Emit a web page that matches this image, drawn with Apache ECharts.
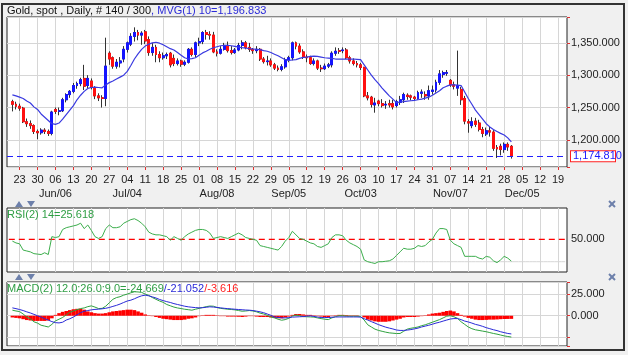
<!DOCTYPE html>
<html><head><meta charset="utf-8">
<script src="https://cdn.jsdelivr.net/npm/echarts@6/dist/echarts.min.js"></script>
<style>html,body{margin:0;padding:0;background:#f0f0f0;}#c{width:628px;height:355px;}</style>
</head><body><div id="c"></div>
<script>
// ---- data (Gold spot, daily, 2016-05-19 .. 2016-11-30) ----
const axisStart = '2016-05-18', axisEnd = '2016-12-21', firstBar = '2016-05-19';
const open  = [1259,1255,1252,1249,1228,1225,1222,1213,1211,1215, 1213,1210,1247,1244,1245,1262,1270,1275,1284,1287, 1295,1284,1291,1281,1268,1265,1264,1334,1327,1314, 1319,1325,1340,1348,1360,1366,1362,1367,1355,1335, 1343,1332,1327,1330,1334,1326,1318,1322,1317,1320, 1340,1332,1350,1352,1366,1363,1362,1336,1334,1340, 1346,1338,1335,1339,1346,1350,1343,1340,1338,1340, 1325,1321,1322,1316,1311,1309,1313,1324,1327,1350, 1345,1336,1328,1327,1318,1322,1311,1310,1314,1316, 1334,1338,1338,1339,1327,1322,1318,1316,1312,1268, 1266,1254,1260,1256,1254,1256,1256,1253,1258,1262, 1269,1268,1266,1264,1272,1270,1268,1275,1277,1289, 1301,1303,1292,1285,1280,1278,1264,1228,1222,1229, 1226,1216,1209,1214,1212,1188,1190,1185,1193,1190];
const close = [1255,1252,1249,1228,1225,1222,1213,1211,1215,1213, 1210,1243,1244,1245,1262,1270,1275,1284,1287,1293, 1283,1295,1281,1268,1265,1264,1314,1325,1314,1320, 1322,1340,1350,1360,1366,1362,1365,1353,1335,1343, 1332,1327,1330,1332,1316,1318,1322,1317,1320,1340, 1332,1350,1352,1366,1363,1362,1336,1334,1340,1346, 1338,1335,1339,1346,1350,1343,1340,1338,1340,1325, 1321,1322,1316,1311,1309,1313,1324,1327,1350,1345, 1336,1328,1327,1318,1322,1311,1310,1314,1316,1334, 1337,1337,1339,1327,1322,1318,1316,1312,1268,1265, 1255,1257,1256,1253,1255,1254,1251,1259,1262,1270, 1267,1266,1264,1273,1274,1268,1276,1277,1289,1302, 1304,1304,1285,1283,1284,1262,1229,1226,1228,1224, 1216,1210,1214,1212,1187,1186,1185,1193,1189,1174.81];
const low   = [1244,1247,1245,1226,1220,1217,1209,1201,1208,1209, 1206,1207,1240,1238,1243,1258,1265,1272,1279,1283, 1277,1280,1278,1263,1260,1250,1252,1316,1310,1310, 1312,1320,1335,1345,1352,1354,1347,1348,1330,1330, 1320,1320,1324,1325,1312,1314,1315,1313,1314,1318, 1329,1328,1345,1348,1355,1355,1334,1329,1332,1338, 1335,1332,1333,1337,1340,1340,1336,1333,1334,1322, 1318,1315,1313,1308,1306,1306,1310,1320,1323,1340, 1333,1325,1320,1316,1315,1308,1305,1308,1311,1312, 1330,1333,1334,1325,1318,1315,1312,1308,1266,1261, 1250,1242,1252,1250,1248,1250,1247,1250,1254,1257, 1262,1261,1260,1262,1265,1262,1262,1270,1273,1285, 1296,1299,1282,1278,1268,1254,1224,1211,1218,1220, 1213,1204,1206,1205,1183,1172,1176,1180,1183,1171];
const high  = [1262,1259,1256,1251,1233,1230,1224,1216,1218,1218, 1216,1245,1250,1250,1265,1272,1277,1288,1290,1296, 1316,1300,1295,1283,1272,1269,1358,1337,1329,1325, 1328,1345,1352,1365,1374,1370,1368,1370,1360,1350, 1347,1337,1335,1335,1336,1332,1326,1324,1323,1342, 1343,1352,1358,1368,1370,1368,1367,1340,1345,1350, 1352,1345,1342,1350,1354,1353,1350,1342,1345,1342, 1328,1330,1326,1319,1315,1317,1327,1330,1352,1352, 1349,1340,1332,1330,1326,1324,1316,1318,1319,1337, 1343,1342,1343,1342,1330,1326,1322,1319,1313,1274, 1268,1265,1262,1263,1260,1262,1262,1262,1268,1273, 1272,1270,1268,1276,1278,1275,1284,1284,1293,1308, 1307,1308,1294,1290,1338,1282,1268,1232,1235,1234, 1231,1220,1219,1220,1215,1192,1194,1196,1196,1192];
const ma10  = [1269.5,1268,1266,1264,1260,1257,1251,1247,1240,1235, 1230,1225,1224,1226,1232,1239,1246,1253,1262,1269, 1275,1279.5,1281,1281.5,1281,1280.5,1285,1288.5,1291,1294, 1297,1300,1306,1315,1325,1333,1340,1345,1348,1350, 1351,1349.5,1347,1344,1341,1339,1335,1331,1327,1325, 1325.5,1327,1331,1334.5,1337,1340,1342.5,1344,1345.5,1346, 1346,1345.5,1344.5,1343.5,1342.5,1342,1341,1340.5,1340,1339.5, 1338,1337,1335,1332.5,1330,1327,1324,1323,1323.5,1324, 1326,1327.5,1328,1329,1329.5,1329,1328,1327,1326.5,1326, 1325,1325,1325,1325,1325,1325,1324.5,1324,1316,1308, 1300,1293,1287,1280,1274,1268,1263,1257.5,1258.5,1259, 1260,1260.5,1261,1262,1263,1264.5,1266,1269,1272.5,1276, 1280.5,1283,1285,1285,1284.5,1284,1274,1264,1255,1246, 1239,1232,1225,1220,1216,1213,1210,1207.5,1203,1196.833];
const rsi14 = [48,46,45,38,37,36,34,33.5,33,35, 33,53,52,53,61,63,64,65,66,68, 62,66,60,53,51,53,62,66,63,63, 64,68,70,72,73,71,68,64,58,56, 55,55,54,53,49,53,51,49,53,56, 58,60,61,61,60,57,51,52,53,52, 51,53,55,57,55,52,51,50,49,43, 42,41,40,39,38,42,48,52,59,55, 51,50,48,46,45,42,41,43,45,52, 55,55,54,49,46,44,42,39,27,25, 24,23,25,25,25.5,26,28,32,36,40, 39,39,40,43,42,43,47,50,57,62, 62,61,49,45,43,41,31,31,31,31, 29,28,31,30,26,24,27,31,29,25.618];
const macdLine = [6.4,5.5,4.8,2,-1.5,-3.5,-7,-8.5,-11,-12, -13,-10,-6,-4,-2,1,4,5.5,7,8.3, 9,10.5,11.4,10,8.3,8.5,11,15,19,21, 22,23.8,25,26.5,27.7,27.5,27,25,23.5,21, 19,17,15.5,13,11.5,10,9,8.3,7.5,7, 6.4,7.5,8.5,9.5,10.5,11.2,11,9.5,8.5,8, 7.5,7.2,6.8,6,5.2,5.5,6,5.5,4.5,3, 2,0.5,-1.4,-2.5,-4,-5.2,-4.5,-3,-0.5,0.8, 0,-1,-1.2,-1.4,-1.6,-2.5,-3.3,-4,-4.5,-2.5, -1,0,0,-0.5,-0.6,-0.6,-0.6,-0.8,-5,-10.5, -13,-15.5,-17,-18,-19,-19.8,-20.2,-20.6,-20.5,-18, -15.5,-14.5,-13.8,-13,-11.5,-10.5,-9,-7.5,-6,-4.5, -2.5,-0.5,0,-1.2,-3,-7,-10,-13,-15,-16.3, -17,-17.8,-18.5,-19.5,-20.5,-21.3,-22.3,-23.3,-24,-24.669];
const signalLine = [9.1,8.2,7.2,6,4.5,3.2,1.6,0,-1.5,-3.5, -5,-6.8,-8,-8.3,-7.5,-5,-3.5,-1.5,1,3.5, 5.2,6,6.8,7.3,7.6,8,8.6,9.5,10.8,12, 13.5,15.3,17,18,19.6,21.5,23,23.8,23,21.8, 20.5,18.8,17.5,16.3,15.3,14,13,12,11,10.3, 9.8,9.4,9.1,9.3,9.8,10.3,10,9.6,9.1,8.6, 8.2,7.9,7.5,7.2,6.9,6.6,6.4,6,5.3,4.5, 3.5,2,0.5,-1.4,-2,-2.4,-2.5,-2.2,-1.6,-1.4, -1.2,-1,-0.5,-0.2,-0.8,-1.5,-2.1,-2.1,-2.1,-1.8, -1.5,-1.4,-1.4,-1.4,-1.4,-1.4,-1.4,-1.6,-3.5,-5, -6.8,-8.5,-10.3,-11.8,-13.2,-14.3,-15.3,-16.5,-17,-17, -16.6,-16,-15.2,-14.3,-13,-12,-11,-9.8,-8.5,-7.5, -6.2,-5,-3.8,-3.3,-3.3,-4.5,-6.2,-7.2,-8.5,-10, -11,-12.3,-13.8,-15,-16.2,-17.2,-18.5,-19.5,-20.5,-21.052];
const histogram = [-2,-2.5,-3,-4,-5,-5.5,-6,-6,-6,-6, -5.5,-3,1,3,4.5,5.5,6.5,7.5,8,8, 7,5,4,3,2.5,2.5,3,4,5,5.5, 6,6.5,7,7,6.5,5,3.5,1.5,0.5,-0.5, -1.5,-2.5,-3.5,-4,-4.5,-5,-5,-5,-4.5,-3.5, -3,-2,-0.5,0.5,1,1,1,0.5,-0.5,-0.5, -1,-1,-1,-1.2,-1.5,-1,-0.5,-0.5,-1,-1.5, -1.5,-1.5,-2,-2.5,-3,-3,-2,-1,1,2, 2,1.5,1,1,0.5,-0.5,-1,-1.5,-2,-0.5, 0.5,1,1,0.8,0.5,0.5,0.5,0,-2,-4.5, -5.5,-6.5,-7,-7,-7,-6.5,-5.5,-4.5,-3.5,-2, -1.5,-1.5,-1.5,-1,-0.5,0.5,1.5,2.5,3,3.5, 4.5,5.5,6,5,3,1,-1,-2.5,-3.5,-4.5, -5,-5,-4.8,-4.5,-4.5,-4.3,-4,-3.8,-3.7,-3.616];
const priceTicks = [1200,1250,1300,1350];
const rsiTicks = [50];
const rsiGuides = [25];
const macdTicks = [25,0];
const monthLabels = {'2016-06-06':'Jun/06','2016-07-04':'Jul/04','2016-08-08':'Aug/08','2016-09-05':'Sep/05','2016-10-03':'Oct/03','2016-11-07':'Nov/07','2016-12-05':'Dec/05'};

// ---- build categories (weekdays) ----
const days = [];
for (let t = Date.parse(axisStart+'T00:00:00Z'); t <= Date.parse(axisEnd+'T00:00:00Z'); t += 86400000) {
  const d = new Date(t), w = d.getUTCDay();
  if (w > 0 && w < 6) days.push(d.toISOString().slice(0,10));
}
const first = days.indexOf(firstBar);
const isMon = v => new Date(v+'T00:00:00Z').getUTCDay() === 1;
const monIv = (i, v) => isMon(v);
const fmt = (v, n) => Number(v).toLocaleString('en-US',{minimumFractionDigits:n, maximumFractionDigits:n});
const font = '"Liberation Sans Narrow", "Arial Narrow", "Liberation Sans", Arial, sans-serif';
const FS = 11;
const GRID = '#d6d6d6';

const candleFull = open.map((o,i)=>[first+i, o, close[i], low[i], high[i]]);
const candleBody = open.map((o,i)=>[first+i, o, close[i], Math.min(o,close[i]), Math.max(o,close[i])]);
const pair = arr => arr.map((v,i)=>[first+i, v]);
const level = v => days.map((d,i)=>[i, v]);
const lastClose = close[close.length-1], lastRsi = rsi14[rsi14.length-1], lastMacd = macdLine[macdLine.length-1];

const boxLabel = (txt) => ({show:true, position:'end', distance:4, formatter:txt, color:'#1a1aff', backgroundColor:'#fff', borderColor:'#ff2020', borderWidth:1, padding:[1,1,0,2], width:41, fontSize:FS, lineHeight:9, fontFamily:font, align:'left'});

const mkX = (gi, main) => ({
  type:'category', gridIndex:gi, data:days, boundaryGap:true,
  axisLine:{show:false},
  axisTick:{show:main, alignWithLabel:true, interval:monIv, length:3, lineStyle:{color:'#e03030'}},
  axisLabel:{show:main, interval:monIv, margin:6, color:'#222', fontSize:FS, lineHeight:14, fontFamily:font,
    formatter: v => monthLabels[v] ? v.slice(8,10)+'\n'+monthLabels[v] : v.slice(8,10)},
  splitLine:{show:true, interval:monIv, alignWithLabel:true, lineStyle:{color:GRID, width:1}}
});
const gridBase = {left:7, width:560, show:true, backgroundColor:'#fff', borderColor:'#222', borderWidth:1};
const rich3 = (c) => ({color:c, fontSize:FS, fontFamily:font, fontWeight:'normal'});

const option = {
  animation:false,
  backgroundColor:'#f0f0f0',
  textStyle:{fontFamily:font},
  title:[
    {text:'{a|Gold, spot , Daily, # 140 / 300}{b|, MVG(1) 10='+fmt(ma10[ma10.length-1],3)+'}', left:7, top:5, padding:0,
     textStyle:{rich:{a:rich3('#111'), b:rich3('#2a2ad8')}}},
    {text:'{a|RSI(2) 14='+fmt(lastRsi,3)+'}', left:7, top:209, padding:0, textStyle:{rich:{a:rich3('#2f9e44')}}},
    {text:'{a|MACD(2) 12.0;26.0;9.0='+fmt(lastMacd,3)+'}{b|/'+fmt(signalLine[signalLine.length-1],3)+'}{c|/'+fmt(histogram[histogram.length-1],3)+'}', left:7, top:283, padding:0,
     textStyle:{rich:{a:rich3('#2f9e44'), b:rich3('#2a2ad8'), c:rich3('#ff2020')}}}
  ],
  grid:[
    Object.assign({top:17, height:150}, gridBase),
    Object.assign({top:208, height:64}, gridBase),
    Object.assign({top:282, height:64}, gridBase)
  ],
  xAxis:[mkX(0,true), mkX(1,false), mkX(2,false)],
  yAxis:[
    {type:'value', gridIndex:0, position:'right', min:1158, max:1390, splitNumber:5, minInterval:50, maxInterval:50,
     axisLine:{show:false}, axisTick:{show:true, length:3, lineStyle:{color:'#e03030'}},
     axisLabel:{margin:4, color:'#222', fontSize:FS, fontFamily:font, formatter:v=>priceTicks.includes(v)?fmt(v,3):''},
     splitLine:{lineStyle:{color:GRID}}},
    {type:'value', gridIndex:1, position:'right', min:13.5, max:85, minInterval:25, maxInterval:25,
     axisLine:{show:false}, axisTick:{show:false},
     axisLabel:{margin:4, color:'#222', fontSize:FS, fontFamily:font, formatter:v=>rsiTicks.includes(v)?fmt(v,3):''},
     splitLine:{show:false}},
    {type:'value', gridIndex:2, position:'right', min:-35, max:39, minInterval:25, maxInterval:25,
     axisLine:{show:false}, axisTick:{show:true, length:3, lineStyle:{color:'#e03030'}},
     axisLabel:{margin:4, color:'#222', fontSize:FS, fontFamily:font, formatter:v=>macdTicks.includes(v)?fmt(v,3):''},
     splitLine:{lineStyle:{color:GRID}}}
  ],
  series:[
    {type:'candlestick', name:'wick', xAxisIndex:0, yAxisIndex:0, data:candleFull, encode:{x:0,y:[1,2,3,4]}, barWidth:2.4,
     itemStyle:{color:'#333',color0:'#333',borderColor:'#333',borderColor0:'#333',borderWidth:1}},
    {type:'candlestick', name:'body', xAxisIndex:0, yAxisIndex:0, data:candleBody, encode:{x:0,y:[1,2,3,4]}, barWidth:2.4,
     itemStyle:{color:'#1414ff',color0:'#ff1010',borderColor:'#1414ff',borderColor0:'#ff1010',borderWidth:1},
     markLine:{silent:true, symbol:'none', animation:false, data:[{yAxis:lastClose}],
       lineStyle:{color:'#2020ff', type:[6,4], width:1}, label:boxLabel(fmt(lastClose,3))}},
    {type:'line', name:'MVG', xAxisIndex:0, yAxisIndex:0, data:pair(ma10), showSymbol:false, lineStyle:{color:'#3a3ae0', width:1.2}},
    {type:'line', name:'rsiGuide', xAxisIndex:1, yAxisIndex:1, data:level(rsiGuides[0]), showSymbol:false, silent:true, z:1,
     itemStyle:{color:GRID}, lineStyle:{color:GRID, width:1, type:'solid'}},
    {type:'line', name:'rsiMid', xAxisIndex:1, yAxisIndex:1, data:level(rsiTicks[0]), showSymbol:false, silent:true, z:2,
     itemStyle:{color:'#ff0000'}, lineStyle:{color:'#ff0000', width:1.2, type:[6,4]}},
    {type:'line', name:'RSI', xAxisIndex:1, yAxisIndex:1, data:pair(rsi14), showSymbol:false, lineStyle:{color:'#3cae4c', width:1}, z:3,
     markLine:{silent:true, symbol:'none', animation:false, data:[{yAxis:lastRsi}], lineStyle:{opacity:0}, label:boxLabel(fmt(lastRsi,3))}},
    {type:'bar', name:'hist', xAxisIndex:2, yAxisIndex:2, data:pair(histogram), barCategoryGap:'0%', itemStyle:{color:'#ff0000'},
     markLine:{silent:true, symbol:'none', animation:false, data:[{yAxis:lastMacd}], lineStyle:{opacity:0}, label:boxLabel(fmt(lastMacd,3))}},
    {type:'line', name:'MACD', xAxisIndex:2, yAxisIndex:2, data:pair(macdLine), showSymbol:false, lineStyle:{color:'#2fa23f', width:1}},
    {type:'line', name:'Signal', xAxisIndex:2, yAxisIndex:2, data:pair(signalLine), showSymbol:false, lineStyle:{color:'#2a2ad8', width:1}}
  ],
  graphic:[
    {type:'rect', z:100, shape:{x:2,y:4,width:622,height:346}, style:{fill:null, stroke:'#333', lineWidth:2}},
    {type:'polygon', z:100, shape:{points:[[15,207],[23,207],[19,201]]}, style:{fill:'#6d80ab'}},
    {type:'polygon', z:100, shape:{points:[[27,201],[35,201],[31,207]]}, style:{fill:'#6d80ab'}},
    {type:'polyline', z:100, shape:{points:[[609,201],[615,207]]}, style:{stroke:'#6d80ab', lineWidth:2}},
    {type:'polyline', z:100, shape:{points:[[615,201],[609,207]]}, style:{stroke:'#6d80ab', lineWidth:2}},
    {type:'polygon', z:100, shape:{points:[[15,280],[23,280],[19,274]]}, style:{fill:'#6d80ab'}},
    {type:'polygon', z:100, shape:{points:[[27,274],[35,274],[31,280]]}, style:{fill:'#6d80ab'}},
    {type:'polyline', z:100, shape:{points:[[609,274],[615,280]]}, style:{stroke:'#6d80ab', lineWidth:2}},
    {type:'polyline', z:100, shape:{points:[[615,274],[609,280]]}, style:{stroke:'#6d80ab', lineWidth:2}}
  ]
};
const chart = echarts.init(document.getElementById('c'), null, {renderer:'canvas'});
chart.setOption(option);
</script></body></html>
